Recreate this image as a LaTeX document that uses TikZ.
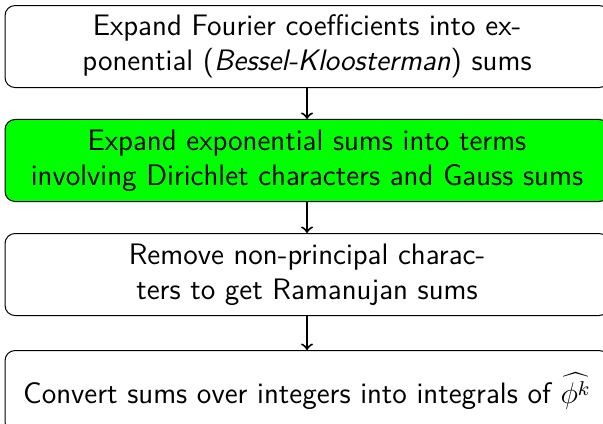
\documentclass[tikz,border=0pt]{standalone}
\begin{document}
\begin{tikzpicture}[stage/.style={draw, rectangle, rounded corners, minimum width=8.49cm, minimum height=1.153cm, align=center, font=\sffamily\fontsize{11.85}{14.1}\selectfont}]
\useasboundingbox (0,0) rectangle (8.477,-5.947);
\node[stage] (a) at (4.316,-0.654) {Expand Fourier coefficients into ex-\\ponential (\textit{Bessel-Kloosterman}) sums};
\node[stage, fill=green] (b) at (4.316,-2.256) {Expand exponential sums into terms\\involving Dirichlet characters and Gauss sums};
\node[stage] (c) at (4.316,-3.859) {Remove non-principal charac-\\ters to get Ramanujan sums};
\node[stage] (d) at (4.316,-5.504) {Convert sums over integers into integrals of $\widehat{\phi^k}$};
\draw[->, thick] (a) -- (b);
\draw[->, thick] (b) -- (c);
\draw[->, thick] (c) -- (d);
\end{tikzpicture}
\end{document}
